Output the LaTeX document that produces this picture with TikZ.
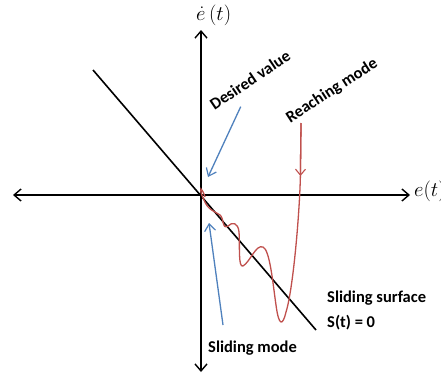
\documentclass[tikz,border=0pt]{standalone}
\usepackage{fontspec}
\setmainfont{Carlito}
\usetikzlibrary{arrows.meta}
\definecolor{smred}{HTML}{C0504D}
\definecolor{smblue}{HTML}{4F81BD}
\tikzset{
  axis/.style={line width=1.6pt, -{Straight Barb[length=7pt,width=12pt,line width=1.4pt]}},
  surf/.style={line width=1.6pt, black},
  redc/.style={line width=1.3pt, smred},
  bluearr/.style={line width=1.3pt, smblue, -{Straight Barb[length=7pt,width=11pt,line width=1.2pt]}},
  lbl/.style={font=\bfseries\fontsize{16.5}{18}\selectfont, inner sep=0pt},
  mlbl/.style={font=\fontsize{20}{22}\selectfont, inner sep=0pt}
}
\begin{document}
\begin{tikzpicture}[x=1pt,y=-1pt]
\useasboundingbox (0,0) rectangle (441,375);
\fill[white] (0,0) rectangle (441,375);
% axes
\coordinate (O) at (201,195);
\coordinate (xl) at (13,195);
\coordinate (xr) at (410,195);
\coordinate (yt) at (201,30);
\coordinate (yb) at (201,372);
\draw[axis] (O) -- (xr);
\draw[axis] (O) -- (xl);
\draw[axis] (O) -- (yt);
\draw[axis] (O) -- (yb);
\node[mlbl, anchor=west] (ex) at (414,191) {$e(t)$};
\node[mlbl, anchor=west] (ey) at (196,15) {$\dot{e}\,(t)$};
% sliding surface
\coordinate (s1) at (93,70);
\coordinate (s2) at (316,330);
\draw[surf] (s1) -- (s2);
% reaching curve
\coordinate (r0) at (301,123);
\coordinate (r1) at (300.4,176);
\draw[redc, -{Straight Barb[length=6pt,width=10pt,line width=1.1pt]}] (r0) -- (r1);
\draw[redc] (r0) -- (300.4,176)
  .. controls (299.5,215) and (293,290) .. (286,312)
  .. controls (283,325) and (279,328) .. (276,305)
  .. controls (273,285) and (270,250) .. (263,247)
  .. controls (256,244) and (250,262) .. (243,266)
  .. controls (238,268) and (240,245) .. (239,232)
  .. controls (238,222) and (232,222) .. (228,226)
  .. controls (222,230) and (224,218) .. (220,215)
  .. controls (214,211) and (208,210) .. (204,200)
  .. controls (202,196) and (200,191) .. (201,189)
  .. controls (202,190) and (204,193) .. (205,197);
% blue arrows
\coordinate (b1s) at (240.7,106.7);
\coordinate (b1e) at (208,177);
\draw[bluearr] (b1s) -- (b1e);
\coordinate (b2s) at (223,325);
\coordinate (b2e) at (209,223);
\draw[bluearr] (b2s) -- (b2e);
% labels
\node[lbl, rotate=34] (dv) at (250,80) {Desired value};
\node[lbl, rotate=33] (rm) at (332,91) {Reaching mode};
\node[lbl, anchor=west] (ss) at (327,298) {Sliding surface};
\node[lbl, anchor=west] (st) at (327,323) {S(t) = 0};
\node[lbl, anchor=west] (sm) at (208,348) {Sliding mode};
\end{tikzpicture}
\end{document}
